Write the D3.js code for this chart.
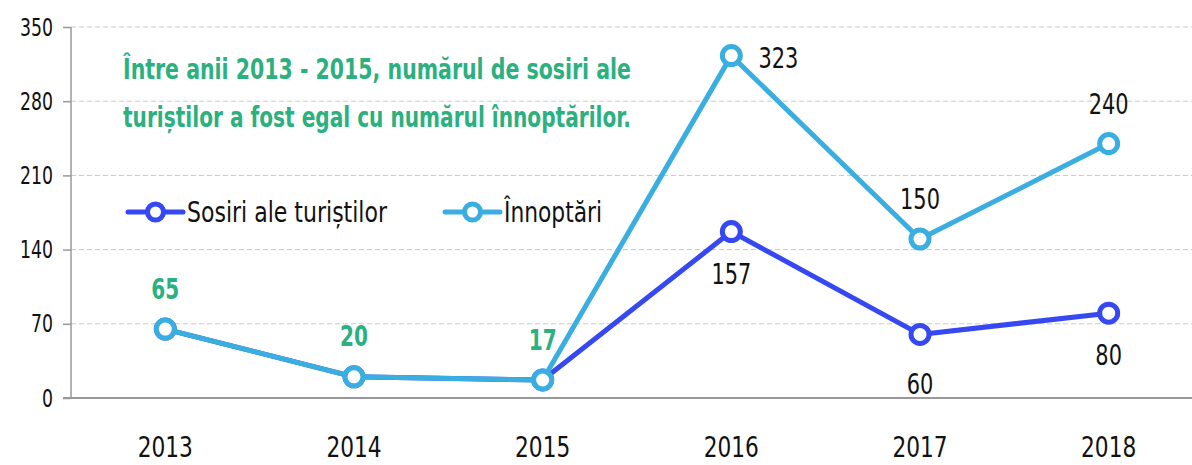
<!DOCTYPE html>
<html lang="ro">
<head>
  <meta charset="utf-8">
  <title>Sosiri si innoptari</title>
  <script src="https://d3js.org/d3.v7.min.js" charset="utf-8"></script>
  <style>
    body { margin: 0; background: #fff; }
    svg text { font-family: "DejaVu Sans", sans-serif; }
    .grid line { stroke: #c8c8c8; stroke-dasharray: 5 3; }
  </style>
</head>
<body>
<script>
  // date
  var years = ["2013", "2014", "2015", "2016", "2017", "2018"];
  var sosiri = [65, 20, 17, 157, 60, 80];
  var innoptari = [65, 20, 17, 323, 150, 240];
  var yTicks = [0, 70, 140, 210, 280, 350];
  var seriesNames = ["Sosiri ale turiștilor", "Înnoptări"];
  var note = ["Între anii 2013 - 2015, numărul de sosiri ale",
              "turiștilor a fost egal cu numărul înnoptărilor."];

  var width = 1192, height = 465;
  var blue = "#3548f2", light = "#3aaee0", green = "#2bb080";

  var svg = d3.select("body").append("svg")
    .attr("width", width)
    .attr("height", height);

  var x = d3.scaleBand().domain(years).range([71, 1203]);
  var y = d3.scaleLinear().domain([0, 350]).range([398, 27]);
  var cx = function(d, i) { return x(years[i]) + x.bandwidth() / 2; };

  // narrow digits, like the original condensed font
  function narrow(sel, perChar) {
    sel.attr("textLength", function() { return this.textContent.length * perChar; })
      .attr("lengthAdjust", "spacingAndGlyphs");
  }

  // grid
  svg.append("g").attr("class", "grid")
    .selectAll("line")
    .data(yTicks.slice(1))
    .enter().append("line")
    .attr("x1", 71).attr("x2", width)
    .attr("y1", d => y(d)).attr("y2", d => y(d));

  // y axis
  var yAxis = svg.append("g")
    .attr("transform", "translate(71,0)")
    .call(d3.axisLeft(y).tickValues(yTicks).tickSize(8).tickPadding(10));
  yAxis.select(".domain").remove();
  yAxis.append("line").attr("x1", 0).attr("x2", 0).attr("y1", y(350)).attr("y2", y(0))
    .attr("stroke", "#999").attr("stroke-width", 1.5);
  yAxis.selectAll(".tick line").attr("stroke", "#999").attr("stroke-width", 1.5);
  yAxis.selectAll(".tick text").attr("font-size", 25).attr("fill", "#111")
    .attr("font-family", null).call(narrow, 11);

  // x axis line
  svg.append("line").attr("x1", 63).attr("x2", width).attr("y1", y(0)).attr("y2", y(0))
    .attr("stroke", "#999").attr("stroke-width", 2);

  svg.append("g").selectAll("text")
    .data(years).enter().append("text")
    .attr("x", d => x(d) + x.bandwidth() / 2)
    .attr("y", 457)
    .attr("text-anchor", "middle")
    .attr("font-size", 28)
    .attr("fill", "#111")
    .text(d => d)
    .call(narrow, 13.8);

  var line = d3.line().x(cx).y(d => y(d));

  function drawSeries(data, color) {
    svg.append("path").datum(data)
      .attr("d", line)
      .attr("fill", "none")
      .attr("stroke", color)
      .attr("stroke-width", 5)
      .attr("stroke-linejoin", "round");
    svg.append("g").selectAll("circle")
      .data(data).enter().append("circle")
      .attr("cx", cx)
      .attr("cy", d => y(d))
      .attr("r", 9)
      .attr("fill", "#fff")
      .attr("stroke", color)
      .attr("stroke-width", 5);
  }
  drawSeries(sosiri, blue);
  drawSeries(innoptari, light);

  // etichete
  function label(i, val, dx, dy, color, bold) {
    svg.append("text")
      .attr("x", cx(val, i) + dx)
      .attr("y", y(val) + dy)
      .attr("text-anchor", "middle")
      .attr("font-size", 29)
      .attr("font-weight", bold ? "bold" : "normal")
      .attr("fill", color)
      .text(val)
      .call(narrow, bold ? 14 : 13.3);
  }
  label(0, sosiri[0], 0, -30, green, true);
  label(1, sosiri[1], 0, -31, green, true);
  label(2, sosiri[2], 0, -30, green, true);
  label(3, innoptari[3], 47, 12, "#111", false);
  label(3, sosiri[3], 0, 52, "#111", false);
  label(4, innoptari[4], 0, -30, "#111", false);
  label(4, sosiri[4], 0, 60, "#111", false);
  label(5, innoptari[5], 0, -30, "#111", false);
  label(5, sosiri[5], 0, 52, "#111", false);

  // nota
  svg.append("g").selectAll("text")
    .data(note).enter().append("text")
    .attr("x", 123)
    .attr("y", (d, i) => 79 + i * 48)
    .attr("font-size", 28)
    .attr("font-weight", "bold")
    .attr("fill", green)
    .attr("textLength", 508)
    .attr("lengthAdjust", "spacingAndGlyphs")
    .text(d => d);

  // legenda
  var legend = svg.append("g").selectAll("g")
    .data(seriesNames).enter().append("g")
    .attr("transform", (d, i) => "translate(" + [128, 445][i] + ",212)");
  legend.append("line").attr("x1", 0).attr("x2", 55).attr("y1", 0).attr("y2", 0)
    .attr("stroke", (d, i) => i ? light : blue).attr("stroke-width", 5)
    .attr("stroke-linecap", "round");
  legend.append("circle").attr("cx", 27.5).attr("cy", 0).attr("r", 8)
    .attr("fill", "#fff").attr("stroke", (d, i) => i ? light : blue).attr("stroke-width", 5);
  legend.append("text").attr("x", 59).attr("y", 10)
    .attr("font-size", 28).attr("fill", "#111")
    .attr("textLength", (d, i) => i ? 98 : 200)
    .attr("lengthAdjust", "spacingAndGlyphs")
    .text(d => d);
</script>
</body>
</html>
